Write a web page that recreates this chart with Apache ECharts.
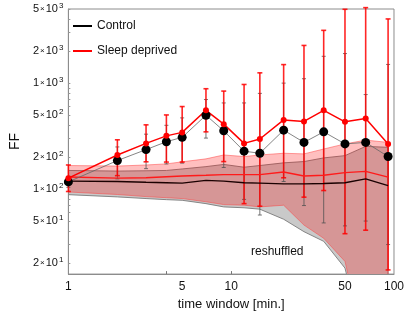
<!DOCTYPE html>
<html><head><meta charset="utf-8">
<script src="https://cdn.jsdelivr.net/npm/echarts@6/dist/echarts.min.js"></script>
<style>html,body{margin:0;padding:0;background:#fff}#c{width:407px;height:316px}</style>
</head><body><div id="c"></div>
<script>
// ---- data ----
const timeWindows = [1, 2, 3, 4, 5, 7, 9, 12, 15, 21, 28, 37, 50, 67, 92];
const controlFF   = [117, 186, 236, 280, 308, 498, 355, 228, 218, 360, 276, 347, 267, 276, 203];
const controlLow  = [104, 125, 156, 173, 176, 303, 160, 80, 57, 118, 70, 48, 45, 50, 30];
const controlHigh = [132, 250, 330, 400, 470, 700, 650, 650, 800, 1000, 1100, 1790, 1900, 780, 1500];
const sleepFF     = [127, 210, 270, 318, 343, 554, 410, 270, 297, 450, 435, 554, 431, 464, 267];
const sleepLow    = [95, 134, 181, 180, 180, 347, 182, 73, 69, 128, 84, 97, 38, 41, 17.3];
const sleepHigh   = [169, 292, 404, 501, 601, 885, 841, 971, 1250, 1495, 2266, 3145, 4970, 5150, 4030];
const controlShufMean = [119, 118, 116, 115, 114, 121, 119, 115, 114, 112, 112, 113, 115, 125, 108];
const controlShufLow  = [88.7, 84.5, 81.5, 79.6, 78.5, 73, 68, 66.7, 64.7, 52, 39.7, 32.2, 18, 3, 3];
const controlShufHigh = [150, 148, 149, 150, 155, 163, 171, 161, 167, 177, 182, 197, 207, 253, 248];
const sleepShufMean = [130, 127, 128, 131, 133, 135, 137, 137, 137, 145, 133, 135, 143, 147, 130];
const sleepShufLow  = [94, 89, 85, 83, 81.5, 76, 71.5, 70.5, 68, 70.5, 45.8, 34.4, 20.8, 3, 3];
const sleepShufHigh = [167, 165, 169, 173, 181, 193, 210, 203, 210, 218, 215, 239, 267, 290, 276];
const xTickLabels = [1, 5, 10, 50, 100];
const xTickMarks = [4, 10];
const yTickLabels = [20, 50, 100, 200, 500, 1000, 2000, 5000];
const yMin = 15.8, yMax = 5000, xMin = 1, xMax = 100;

const FONT = "'Liberation Sans', Arial, sans-serif";
const lg = Math.log10;
const yMinor = [];
[10, 100, 1000].forEach(d => { for (let k = 1; k <= 9; k++) { const v = k * d; if (v >= yMin && v <= yMax) yMinor.push(v); } });

function bandSeries(low, high, fill, stroke) {
  return {
    type: 'custom', silent: true, clip: true, xAxisIndex: 0, yAxisIndex: 0,
    encode: { x: 0, y: [1, 2] },
    data: timeWindows.map((t, i) => [t, low[i], high[i]]),
    renderItem(params, api) {
      if (params.dataIndex !== 0) return;
      const top = [], bot = [];
      for (let i = 0; i < timeWindows.length; i++) {
        top.push(api.coord([timeWindows[i], high[i]]));
        bot.push(api.coord([timeWindows[i], low[i]]));
      }
      return { type: 'polygon', shape: { points: top.concat(bot.reverse()) },
        style: { fill: fill, stroke: stroke, lineWidth: 0.9 } };
    }
  };
}
function errSeries(low, high, color, width, cap) {
  return {
    type: 'custom', silent: true, clip: false, xAxisIndex: 0, yAxisIndex: 0,
    encode: { x: 0, y: [1, 2] },
    data: timeWindows.map((t, i) => [t, low[i], high[i]]),
    renderItem(params, api) {
      const x = api.value(0);
      const a = api.coord([x, api.value(1)]), b = api.coord([x, api.value(2)]);
      const st = { stroke: color, lineWidth: width };
      return { type: 'group', children: [
        { type: 'line', shape: { x1: a[0], y1: a[1], x2: b[0], y2: b[1] }, style: st },
        { type: 'line', shape: { x1: a[0] - cap, y1: a[1], x2: a[0] + cap, y2: a[1] }, style: st },
        { type: 'line', shape: { x1: b[0] - cap, y1: b[1], x2: b[0] + cap, y2: b[1] }, style: st }
      ] };
    }
  };
}
const pts = arr => timeWindows.map((t, i) => [t, arr[i]]);

const chart = echarts.init(document.getElementById('c'), null, { renderer: 'canvas' });
chart.setOption({
  animation: false,
  backgroundColor: '#fff',
  textStyle: { fontFamily: FONT },
  grid: { left: 62, right: 12, top: 9, bottom: 40, show: true, borderColor: '#8c8c8c', borderWidth: 1, backgroundColor: 'transparent' },
  legend: {
    data: [{ name: 'Control', icon: 'rect' }, { name: 'Sleep deprived', icon: 'rect' }],
    orient: 'vertical', left: 68, top: 15, itemWidth: 19, itemHeight: 2, itemGap: 13, itemTextGap: 6,
    textStyle: { fontSize: 12, color: '#111', fontFamily: FONT }
  },
  xAxis: [
    { type: 'log', min: xMin, max: xMax, axisLine: { show: false }, axisTick: { show: false }, axisLabel: { show: false }, splitLine: { show: false } },
    { type: 'value', min: lg(xMin), max: lg(xMax), position: 'bottom',
      axisLine: { lineStyle: { color: '#8c8c8c' } },
      axisTick: { customValues: xTickMarks.map(lg), inside: true, length: 3, lineStyle: { color: '#777' } },
      axisLabel: { customValues: xTickLabels.map(lg), formatter: v => String(Math.round(Math.pow(10, v))), fontSize: 12, color: '#111', margin: 7, fontFamily: FONT },
      splitLine: { show: false },
      name: 'time window [min.]', nameLocation: 'middle', nameGap: 21,
      nameTextStyle: { fontSize: 13, color: '#111', fontFamily: FONT } }
  ],
  yAxis: [
    { type: 'log', min: yMin, max: yMax, axisLine: { show: false }, axisTick: { show: false }, axisLabel: { show: false }, splitLine: { show: false } },
    { type: 'value', min: lg(yMin), max: lg(yMax), position: 'left',
      axisLine: { lineStyle: { color: '#8c8c8c' } },
      axisTick: { customValues: yMinor.map(lg), inside: true, length: 2, lineStyle: { color: '#999' } },
      axisLabel: { customValues: yTickLabels.map(lg), margin: 5, color: '#111', fontFamily: FONT,
        formatter: v => {
          const val = Math.pow(10, v);
          const e = Math.floor(v + 1e-9);
          const m = Math.round(val / Math.pow(10, e));
          return '{m|' + m + '}{x|×}{m|10}{e|' + e + '}';
        },
        rich: {
          m: { fontSize: 11, color: '#111', fontFamily: FONT },
          x: { fontSize: 8, color: '#111', fontFamily: FONT, padding: [0, 1, 0, 1] },
          e: { fontSize: 8, color: '#111', fontFamily: FONT, padding: [0, 0, 7, 1] }
        } },
      splitLine: { show: false },
      name: 'FF', nameLocation: 'middle', nameGap: 44, nameRotate: 90,
      nameTextStyle: { fontSize: 14, color: '#111', fontFamily: FONT } }
  ],
  graphic: [
    { type: 'text', left: 251, top: 246, style: { text: 'reshuffled', fontSize: 12, fill: '#111', font: '12px ' + FONT } }
  ],
  series: [
    bandSeries(controlShufLow, controlShufHigh, '#c9c9c9', '#7a7a7a'),
    { type: 'line', xAxisIndex: 0, yAxisIndex: 0, data: pts(controlShufMean), showSymbol: false, silent: true,
      lineStyle: { color: '#1a0000', width: 1.4 } },
    bandSeries(sleepShufLow, sleepShufHigh, 'rgba(255,0,0,0.25)', 'rgba(255,60,60,0.55)'),
    { type: 'line', xAxisIndex: 0, yAxisIndex: 0, data: pts(sleepShufMean), showSymbol: false, silent: true,
      lineStyle: { color: '#ff1a1a', width: 1.4 } },
    errSeries(controlLow, controlHigh, '#505050', 0.8, 2),
    errSeries(sleepLow, sleepHigh, 'rgba(255,0,0,0.85)', 1.6, 2.5),
    { name: 'Control', type: 'line', xAxisIndex: 0, yAxisIndex: 0, data: pts(controlFF),
      symbol: 'circle', symbolSize: 9, itemStyle: { color: '#000' },
      lineStyle: { color: '#666', width: 0.8 } },
    { name: 'Sleep deprived', type: 'line', xAxisIndex: 0, yAxisIndex: 0, data: pts(sleepFF),
      symbol: 'circle', symbolSize: 6, itemStyle: { color: '#ff0000' },
      lineStyle: { color: '#ff0000', width: 1.5 } }
  ]
});
</script></body></html>
